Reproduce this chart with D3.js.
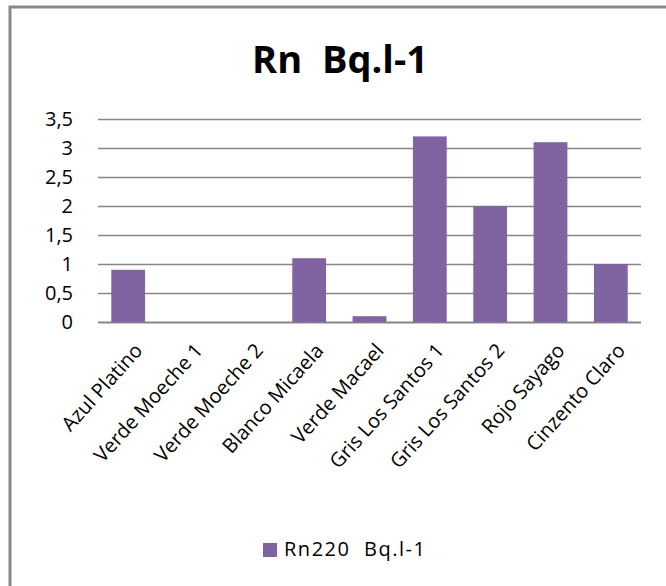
<!DOCTYPE html>
<html>
<head>
<meta charset="utf-8">
<script src="https://cdn.jsdelivr.net/npm/d3@7"></script>
<style>
  body { margin: 0; background: #fff; }
  svg { display: block; font-family: "Open Sans", sans-serif; }
</style>
</head>
<body>
<div id="chart"></div>
<script>
// data
const categories = ["Azul Platino", "Verde Moeche 1", "Verde Moeche 2", "Blanco Micaela",
    "Verde Macael", "Gris Los Santos 1", "Gris Los Santos 2", "Rojo Sayago", "Cinzento Claro"];
const values = [0.9, 0, 0, 1.1, 0.1, 3.2, 2.0, 3.1, 1.0];
const yTicks = [0, 0.5, 1, 1.5, 2, 2.5, 3, 3.5];
const titleText = "Rn\u00a0\u00a0Bq.l-1";
const seriesName = "Rn220\u00a0\u00a0Bq.l-1";

const width = 666, height = 586;
const plot = { left: 98, right: 641, top: 119, bottom: 322 };
const barColor = "#8064a2";
const gridColor = "#868686";

const svg = d3.select("#chart").append("svg")
    .attr("width", width)
    .attr("height", height);

// frame (only left + top visible in the crop)
svg.append("path")
    .attr("d", `M10,${height} V7 H${width}`)
    .attr("fill", "none")
    .attr("stroke", "#888")
    .attr("stroke-width", 3);

const x = d3.scaleBand()
    .domain(categories)
    .range([plot.left, plot.right])
    .paddingInner(0.44)
    .paddingOuter(0.22);

const y = d3.scaleLinear()
    .domain([0, 3.5])
    .range([plot.bottom, plot.top]);

// gridlines
svg.append("g")
    .selectAll("line")
    .data(yTicks)
    .join("line")
    .attr("x1", plot.left)
    .attr("x2", plot.right)
    .attr("y1", d => Math.round(y(d)) + 0.5)
    .attr("y2", d => Math.round(y(d)) + 0.5)
    .attr("stroke", gridColor)
    .attr("stroke-width", d => d === 0 ? 2 : 1.3);

// y labels
svg.append("g")
    .selectAll("text")
    .data(yTicks)
    .join("text")
    .attr("x", 73)
    .attr("y", d => y(d))
    .attr("dy", "0.36em")
    .attr("text-anchor", "end")
    .attr("font-size", 20)
    .attr("fill", "#000")
    .text(d => d3.format(".1~f")(d).replace(".", ","));

// bars
svg.append("g")
    .selectAll("rect")
    .data(values)
    .join("rect")
    .attr("x", (d, i) => x(categories[i]))
    .attr("width", x.bandwidth())
    .attr("y", d => y(d))
    .attr("height", d => y(0) - y(d))
    .attr("fill", barColor);

// x labels, rotated (picture is a bit stretched vertically, so steeper than 45)
svg.append("g")
    .selectAll("text")
    .data(categories)
    .join("text")
    .attr("transform", d => `translate(${x(d) + x.bandwidth() / 2 + 5},${plot.bottom + 20}) rotate(-48)`)
    .attr("text-anchor", "end")
    .attr("dy", "0.7em")
    .attr("font-size", 20)
    .attr("fill", "#000")
    .text(d => d);

// title
svg.append("text")
    .attr("x", 340)
    .attr("y", 73)
    .attr("text-anchor", "middle")
    .attr("font-size", 38)
    .attr("font-weight", "bold")
    .attr("fill", "#000")
    .text(titleText);

// legend
const legend = svg.append("g").attr("transform", "translate(263,543)");
legend.append("rect")
    .attr("width", 14)
    .attr("height", 14)
    .attr("fill", barColor);
legend.append("text")
    .attr("x", 21)
    .attr("y", 13)
    .attr("font-size", 20)
    .attr("textLength", 141)
    .attr("lengthAdjust", "spacing")
    .attr("fill", "#000")
    .text(seriesName);
</script>
</body>
</html>
